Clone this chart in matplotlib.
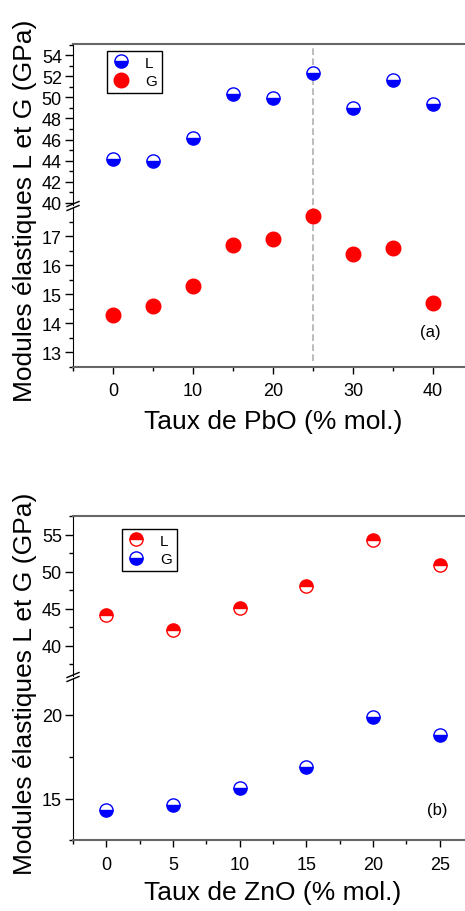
import matplotlib
matplotlib.use("Agg")
import matplotlib.pyplot as plt
from matplotlib.ticker import MultipleLocator

plt.rcParams['font.family'] = ['Liberation Sans', 'DejaVu Sans']

# ── data: panel (a), PbO ─────────────────────────
pbo = [0, 5, 10, 15, 20, 25, 30, 35, 40]
pbo_L = [44.2, 44.0, 46.1, 50.3, 49.9, 52.3, 49.0, 51.6, 49.4]
pbo_G = [14.3, 14.6, 15.3, 16.7, 16.9, 17.7, 16.4, 16.6, 14.7]
pbo_peak = 25

# ── data: panel (b), ZnO ─────────────────────────
zno = [0, 5, 10, 15, 20, 25]
zno_L = [44.2, 42.1, 45.1, 48.1, 54.3, 50.9]
zno_G = [14.3, 14.6, 15.6, 16.9, 19.9, 18.8]

W, H = 465, 912
fig = plt.figure(figsize=(W / 100, H / 100), dpi=100)

LEFT, RIGHT = 73, 473
SPINE_H = "#666666"
TICK_FS = 13


def box(top, bottom):
    # pixel rectangle -> figure fraction
    return [LEFT / W, 1 - bottom / H, (RIGHT - LEFT) / W, (bottom - top) / H]


def style(ax, upper):
    ax.spines['right'].set_visible(False)
    ax.spines['left'].set_color("black")
    ax.tick_params(axis='y', which='major', direction='out', length=6, width=1,
                   labelsize=TICK_FS, colors="black", pad=2)
    ax.tick_params(axis='y', which='minor', direction='out', length=3, width=1)
    if upper:
        ax.spines['bottom'].set_visible(False)
        ax.spines['top'].set_color(SPINE_H)
        ax.spines['top'].set_linewidth(1.5)
        ax.tick_params(axis='x', which='both', bottom=False, labelbottom=False)
    else:
        ax.spines['top'].set_visible(False)
        ax.spines['bottom'].set_color(SPINE_H)
        ax.spines['bottom'].set_linewidth(1.5)
        ax.tick_params(axis='x', which='major', direction='out', length=5, width=1,
                       labelsize=TICK_FS, colors="black", pad=6)
        ax.tick_params(axis='x', which='minor', direction='out', length=3, width=1,
                       color="black")


def break_marks(y_top, y_bot):
    # two small slashes across the left spine
    for y in (y_top, y_bot):
        fig.add_artist(plt.Line2D([(LEFT - 6) / W, (LEFT + 6) / W],
                                  [1 - (y + 2.5) / H, 1 - (y - 2.5) / H],
                                  color="black", lw=1, transform=fig.transFigure))


def legend(ax, handles, x, y):
    leg = ax.legend(handles=handles, labels=["L", "G"], loc="upper left",
                    bbox_to_anchor=(x, y), borderaxespad=0, fancybox=False,
                    edgecolor="black", fontsize=11, handlelength=1.2,
                    handletextpad=1.0, labelspacing=0.3, borderpad=0.3,
                    numpoints=1, framealpha=1)
    leg.get_frame().set_linewidth(1)


# ── panel (a) ────────────────────────────────────
a_up = fig.add_axes(box(45, 206))
a_lo = fig.add_axes(box(209, 368))

hL, = a_up.plot(pbo, pbo_L, 'o', ms=9.5, color="blue", fillstyle='bottom',
                markerfacecoloralt="white", mec="blue", mew=1, ls='none')
hG, = a_lo.plot(pbo, pbo_G, 'o', ms=10.5, color="red", mec="red", ls='none')
a_up.axvline(pbo_peak, color="#b0b0b0", ls=(0, (4, 2)), lw=1.2, zorder=0)
a_lo.axvline(pbo_peak, ymin=0.04, color="#b0b0b0", ls=(0, (4, 2)), lw=1.2, zorder=0)

for ax in (a_up, a_lo):
    ax.set_xlim(-5, 45)
    ax.xaxis.set_major_locator(MultipleLocator(10))
    ax.xaxis.set_minor_locator(MultipleLocator(5))
a_up.set_ylim(39.8, 55.05)
a_up.yaxis.set_major_locator(MultipleLocator(2))
a_up.yaxis.set_minor_locator(MultipleLocator(1))
a_lo.set_ylim(12.5, 17.97)
a_lo.yaxis.set_major_locator(MultipleLocator(1))
a_lo.yaxis.set_minor_locator(MultipleLocator(0.5))
style(a_up, True)
style(a_lo, False)
break_marks(205, 209)
legend(a_up, [hL, hG], 0.085, 0.957)
a_lo.text(0.8925, 0.226, "(a)", transform=a_lo.transAxes, ha="center",
          va="center", fontsize=12)

# ── panel (b) ────────────────────────────────────
b_up = fig.add_axes(box(516.7, 677))
b_lo = fig.add_axes(box(680, 841.3))

hL2, = b_up.plot(zno, zno_L, 'o', ms=9.5, color="red", fillstyle='top',
                 markerfacecoloralt="white", mec="red", mew=1, ls='none')
hG2, = b_lo.plot(zno, zno_G, 'o', ms=9.5, color="blue", fillstyle='bottom',
                 markerfacecoloralt="white", mec="blue", mew=1, ls='none')

for ax in (b_up, b_lo):
    ax.set_xlim(-2.5, 27.5)
    ax.xaxis.set_major_locator(MultipleLocator(5))
    ax.xaxis.set_minor_locator(MultipleLocator(2.5))
b_up.set_ylim(35.9, 57.55)
b_up.yaxis.set_major_locator(MultipleLocator(5))
b_up.yaxis.set_minor_locator(MultipleLocator(2.5))
b_lo.set_ylim(12.5, 22.15)
b_lo.yaxis.set_major_locator(MultipleLocator(5))
b_lo.yaxis.set_minor_locator(MultipleLocator(2.5))
style(b_up, True)
style(b_lo, False)
break_marks(676, 680)
legend(b_up, [hL2, hG2], (122 - LEFT) / (RIGHT - LEFT), (677 - 530) / (677 - 516.7))
b_lo.text(0.91, 0.194, "(b)", transform=b_lo.transAxes, ha="center",
          va="center", fontsize=12)

# ── axis titles ──────────────────────────────────
ylab = "Modules élastiques L et G (GPa)"
fig.text(25 / W, 1 - 211 / H, ylab, rotation=90, ha="center", va="center", fontsize=19)
fig.text(25 / W, 1 - 684 / H, ylab, rotation=90, ha="center", va="center", fontsize=19)
fig.text(273 / W, 1 - 422 / H, "Taux de PbO (% mol.)", ha="center", va="center", fontsize=19)
fig.text(273 / W, 1 - 893 / H, "Taux de ZnO (% mol.)", ha="center", va="center", fontsize=19)

fig.savefig("out.png", dpi=100)
